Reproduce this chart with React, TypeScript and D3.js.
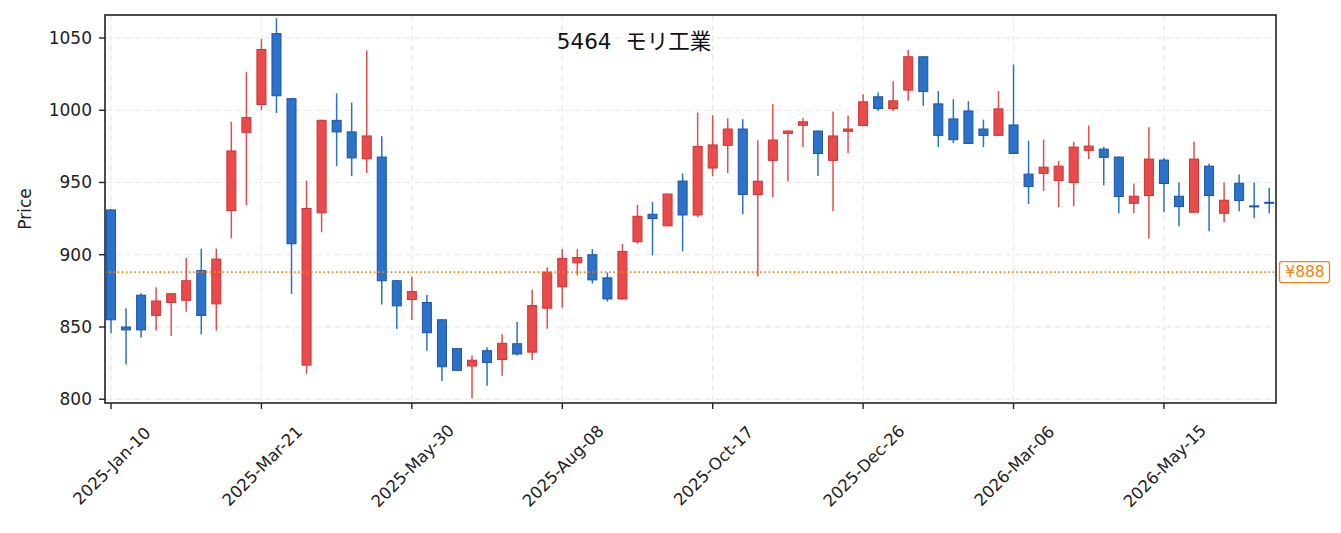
import * as d3 from 'd3';

// weekly candles, index 0 = 2025-Jan-10
const opens = [
  931, 850, 872, 858, 867, 868.5, 889, 866, 930.6, 984.7, 1004, 1053, 1008, 823.6, 929, 993, 985, 966.4, 967.6, 882,
  869, 867, 855, 835, 823, 833.6, 827.5, 838.4, 832.6, 863, 877.8, 894.4, 900, 884, 869.4, 909, 928, 920, 951, 927.5,
  960, 975.7, 987, 941.7, 965.3, 984, 989.6, 985.6, 965.3, 985.4, 989.4, 1009.3, 1001.2, 1013.9, 1037, 1004.4, 994, 999.5, 987, 982.6,
  989.8, 955.8, 956.3, 951.4, 950, 972.2, 973.1, 967.6, 935.6, 941, 965.5, 940.5, 929.4, 961.3, 928.7, 949.5, 933.8, 936.3,
];
const closes = [
  855, 848, 848, 868, 873, 882, 858, 897, 971.8, 994.9, 1042, 1010, 907.6, 932, 993, 985, 967, 982.2, 882, 864.6,
  874.5, 846, 822.5, 820, 827, 825.5, 838.7, 831.3, 864.8, 888, 897.5, 898.1, 882.6, 869.4, 902.3, 926.6, 925, 942, 927.5, 975,
  976, 987, 941.7, 950.9, 979.4, 985.6, 992, 970, 982.2, 987, 1005.8, 1001.2, 1006.5, 1037, 1013, 982.6, 979.6, 977, 982.6, 1000.9,
  970.1, 947.2, 960.6, 961.3, 974.5, 975.2, 967.4, 940.3, 940.5, 966.2, 949.3, 933.3, 966.2, 941, 937.7, 937.5, 933.4, 936,
];
const highs = [
  931.5, 863, 873.4, 877.5, 873.5, 897.7, 904.2, 904.2, 992, 1026.4, 1049.3, 1063.7, 1008.5, 951.2, 993.5, 1011.6, 1005.3, 1041.4, 982, 882.5,
  884.7, 872.2, 855.3, 835.5, 830.3, 835.9, 844.9, 853.5, 875.7, 891.4, 903.9, 903.9, 903.9, 887.7, 907.4, 934.5, 936.6, 942.3, 956.3, 998.4,
  996.5, 994.4, 993.8, 979.2, 1004.2, 986, 994.4, 986, 999.1, 996.3, 1011.1, 1012.3, 1020.1, 1041.7, 1037.3, 1013.2, 1007.6, 1006.3, 993.5, 1013.2,
  1031.7, 978.9, 979.6, 965, 978.2, 989.4, 974.8, 968, 949.3, 988.2, 966.9, 950, 978.2, 963, 950, 955.6, 950, 946.3,
];
const lows = [
  845.6, 824, 842.8, 847.5, 844, 860.6, 844.9, 847.5, 911.3, 934.3, 1000.2, 998.1, 872.9, 817.6, 915.5, 961.3, 954.4, 956.5, 865.5, 848.8,
  854.9, 833.6, 812.7, 819.7, 800.5, 809.3, 816.2, 830.3, 827.1, 848.8, 863.4, 885.6, 880.1, 867.6, 869, 907.4, 899.5, 919.7, 902.3, 925.9,
  954.4, 956.5, 928, 885, 939.8, 950.9, 974.5, 954.4, 930.1, 970.4, 989.2, 999.5, 999.5, 1006.5, 1003, 974.5, 977.3, 976.7, 974.5, 982.4,
  969.9, 935, 944, 932.9, 933.6, 966.2, 948.1, 928.7, 928.7, 911.3, 929.4, 919.7, 929.2, 916.2, 922.5, 930.1, 925.2, 928.7,
];

const tickIdx = [0, 10, 20, 30, 40, 50, 60, 70];
const tickLabels = [
  '2025-Jan-10', '2025-Mar-21', '2025-May-30', '2025-Aug-08',
  '2025-Oct-17', '2025-Dec-26', '2026-Mar-06', '2026-May-15',
];
const yTicks = [800, 850, 900, 950, 1000, 1050];
const refPrice = 888;
const title = '5464  モリ工業';

const W = 1341;
const H = 533;
const M = { left: 105, right: 1276, top: 15, bottom: 403 };
const FONT = '"DejaVu Sans", "Noto Sans CJK JP", sans-serif';

const UP_FILL = '#e84b4b';
const UP_EDGE = '#cf3333';
const DN_FILL = '#2b72c8';
const DN_EDGE = '#1d56a6';
const ORANGE = '#ff7f0e';

export default function App() {
  const x = d3.scaleLinear().domain([-0.4, 77.45]).range([M.left, M.right]);
  const y = d3.scaleLinear().domain([797.4, 1065.9]).range([M.bottom, M.top]);
  const bw = x(0.3) - x(-0.3);

  const candles = opens.map((o, i) => ({ i, o, c: closes[i], h: highs[i], l: lows[i] }));

  return (
    <div style={{ position: 'absolute', left: 0, top: 0 }}>
      <svg width={W} height={H} style={{ display: 'block', fontFamily: FONT }}>
        <rect width={W} height={H} fill="#fff" />

        {/* grid */}
        <g stroke="#e8e8e8" strokeWidth={1.2} strokeDasharray="6,4">
          {yTicks.map((t) => (
            <line key={'gy' + t} x1={M.left} x2={M.right} y1={y(t)} y2={y(t)} />
          ))}
          {tickIdx.map((t) => (
            <line key={'gx' + t} x1={x(t)} x2={x(t)} y1={M.top} y2={M.bottom} />
          ))}
        </g>

        {/* candles */}
        {candles.map((d) => {
          const up = d.c > d.o;
          const fill = up ? UP_FILL : DN_FILL;
          const edge = up ? UP_EDGE : DN_EDGE;
          const top = y(Math.max(d.o, d.c));
          const bot = y(Math.min(d.o, d.c));
          const cx = x(d.i);
          return (
            <g key={d.i}>
              <line x1={cx} x2={cx} y1={y(d.h)} y2={y(d.l)} stroke={fill} strokeWidth={1.5} />
              <rect
                x={cx - bw / 2}
                y={top}
                width={bw}
                height={Math.max(bot - top, 1)}
                fill={fill}
                stroke={edge}
                strokeWidth={1}
              />
            </g>
          );
        })}

        {/* reference line */}
        <line
          x1={M.left}
          x2={M.right}
          y1={y(refPrice)}
          y2={y(refPrice)}
          stroke={ORANGE}
          strokeWidth={1.6}
          strokeDasharray="1.6,2.6"
        />
        <rect x={1279.5} y={y(refPrice) - 10.5} width={50} height={21} rx={2.5} fill="#fff" stroke={ORANGE} strokeWidth={1.3} />
        <text x={1305} y={y(refPrice)} fill={ORANGE} fontSize={15.5} textAnchor="middle" dominantBaseline="central">
          ¥{refPrice}
        </text>

        {/* frame */}
        <rect
          x={M.left}
          y={M.top}
          width={M.right - M.left}
          height={M.bottom - M.top}
          fill="none"
          stroke="#222"
          strokeWidth={1.6}
        />

        {/* y axis */}
        {yTicks.map((t) => (
          <g key={'yt' + t}>
            <line x1={M.left - 6} x2={M.left} y1={y(t)} y2={y(t)} stroke="#222" strokeWidth={1.4} />
            <text x={M.left - 13} y={y(t)} fontSize={17} fill="#222" textAnchor="end" dominantBaseline="central">
              {t}
            </text>
          </g>
        ))}
        <text
          transform={`translate(25,${(M.top + M.bottom) / 2}) rotate(-90)`}
          fontSize={17}
          fill="#222"
          textAnchor="middle"
          dominantBaseline="central"
        >
          Price
        </text>

        {/* x axis */}
        {tickIdx.map((t, k) => (
          <g key={'xt' + t}>
            <line x1={x(t)} x2={x(t)} y1={M.bottom} y2={M.bottom + 6} stroke="#222" strokeWidth={1.4} />
            <text
              transform={`translate(${x(t) + 1},466) rotate(-45)`}
              fontSize={16.5}
              fill="#222"
              textAnchor="middle"
              dominantBaseline="central"
            >
              {tickLabels[k]}
            </text>
          </g>
        ))}

        <text x={634} y={48.5} fontSize={21.5} fill="#111" textAnchor="middle" style={{ whiteSpace: 'pre' }}>
          {title}
        </text>
      </svg>
    </div>
  );
}
